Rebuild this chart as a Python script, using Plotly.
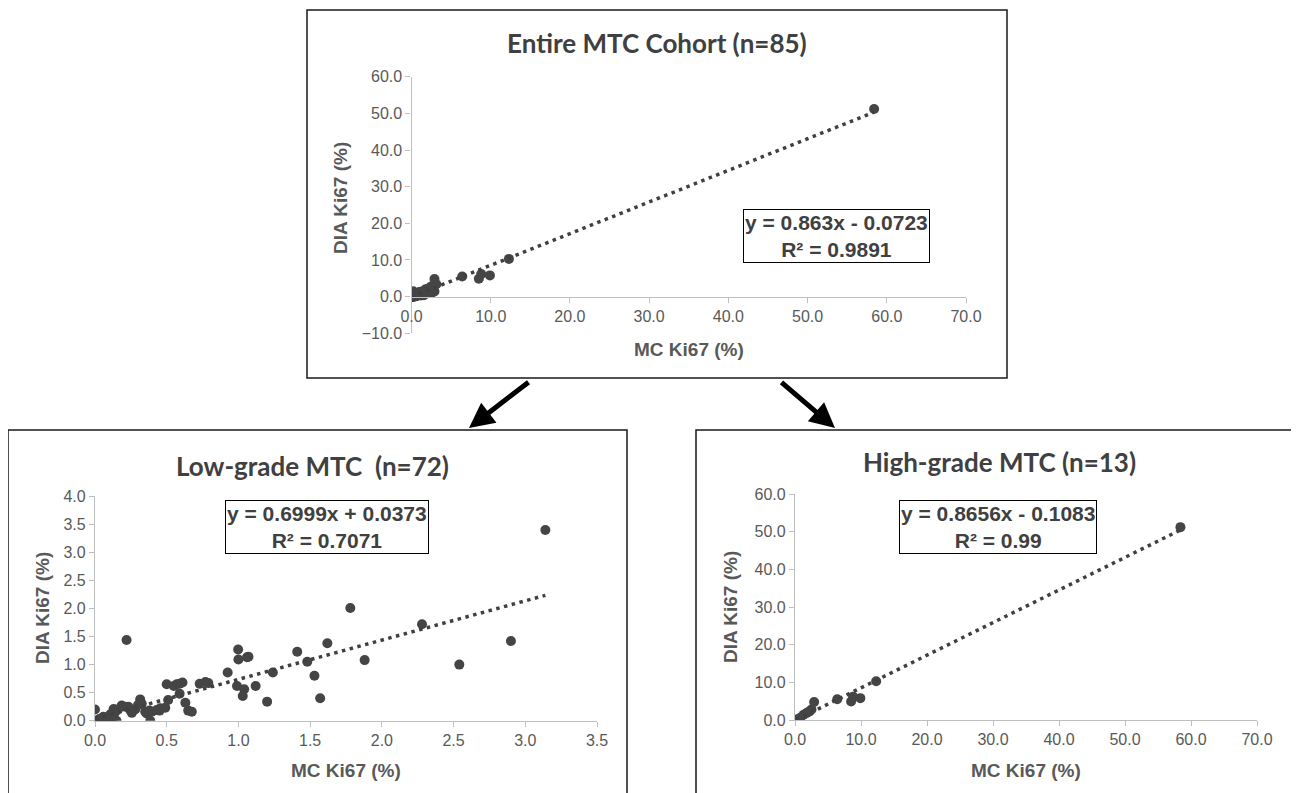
import plotly.graph_objects as go

# ---------------- data ----------------
low_mc = [0.00, 0.00, 0.02, 0.04, 0.06, 0.08, 0.10, 0.12, 0.15, 0.22,
          0.13, 0.14, 0.105, 0.058, 0.186, 0.21, 0.233, 0.245, 0.257,
          0.315, 0.326, 0.35, 0.36, 0.385, 0.396, 0.43, 0.455, 0.49,
          0.50, 0.51, 0.57, 0.59, 0.59, 0.63, 0.65, 0.675,
          0.73, 0.77, 0.79, 0.925, 0.99, 0.998, 1.00, 1.03, 1.04, 1.06, 1.07, 1.12, 1.20, 1.24,
          1.41, 1.48, 1.53, 1.57, 1.62, 1.78, 1.88, 2.28, 2.54, 2.90, 3.14,
          0.03, 0.07, 0.09, 0.11, 0.16, 0.28, 0.30, 0.38, 0.45, 0.55, 0.61]
low_dia = [0.20, 0.00, 0.00, 0.00, 0.00, 0.00, 0.00, 0.00, 0.00, 1.44,
           0.21, 0.15, 0.10, 0.07, 0.27, 0.25, 0.25, 0.19, 0.14,
           0.38, 0.30, 0.16, 0.13, 0.00, 0.16, 0.19, 0.22, 0.23,
           0.65, 0.37, 0.65, 0.66, 0.48, 0.32, 0.18, 0.16,
           0.66, 0.69, 0.67, 0.86, 0.62, 1.27, 1.09, 0.44, 0.56, 1.13, 1.14, 0.62, 0.34, 0.86,
           1.23, 1.05, 0.80, 0.40, 1.38, 2.01, 1.08, 1.72, 1.00, 1.42, 3.40,
           0.03, 0.02, 0.05, 0.12, 0.20, 0.20, 0.28, 0.18, 0.18, 0.62, 0.68]

high_mc = [0.2, 0.8, 1.3, 1.8, 2.2, 2.5, 2.9, 6.4, 8.5, 8.8, 9.9, 12.3, 58.4]
high_dia = [0.1, 0.6, 1.4, 1.9, 2.3, 2.8, 4.8, 5.5, 4.9, 6.2, 5.8, 10.3, 51.2]

all_mc = low_mc + high_mc
all_dia = low_dia + high_dia

panel_titles = ["Entire MTC Cohort (n=85)", "Low-grade MTC&nbsp; (n=72)", "High-grade MTC (n=13)"]
slopes = [0.863, 0.6999, 0.8656]
intercepts = [-0.0723, 0.0373, -0.1083]
r2_values = ["0.9891", "0.7071", "0.99"]
x_ranges = [[0, 70], [0, 3.5], [0, 70]]
y_ranges = [[-10, 60], [0, 4.0], [0, 60]]
x_dticks = [10, 0.5, 10]
y_dticks = [10, 0.5, 10]
x_title = "MC Ki67 (%)"
y_title = "DIA Ki67 (%)"

# ---------------- style / layout ----------------
GRAY = "#595959"
AXIS = "#bfbfbf"
MARK = "#454545"
TICKFONT = dict(family="Liberation Sans, Arial, sans-serif", size=16, color=GRAY)
W, H = 1299, 793
OX, OY = 8, 8   # page offset of the plot div (body margin)

def px(x):
    return (x - OX) / W

def py(y):
    return 1 - (y - OY) / H

datasets = [(all_mc, all_dia), (low_mc, low_dia), (high_mc, high_dia)]
x_domains = [[px(411.5), px(966)], [px(95), px(597)], [px(795), px(1257)]]
y_domains = [[py(333.3), py(76.7)], [py(720.7), py(496.3)], [py(720), py(494)]]
title_pos = [(657, 43), (312, 466), (999, 462)]
xt_pos = [(689, 350), (346, 770), (1026, 770)]
yt_pos = [(340, 198), (42, 608), (730, 607)]
eq_pos = [(836, 236), (327, 527), (998, 527)]

fig = go.Figure()
layout = dict(width=W, height=H, margin=dict(l=0, r=0, t=0, b=0, autoexpand=False),
              paper_bgcolor="white", plot_bgcolor="white", showlegend=False)
annotations = []
shapes = []

def ann(**kw):
    base = dict(xref="paper", yref="paper", showarrow=False, xanchor="center", yanchor="middle")
    base.update(kw)
    annotations.append(base)

for i, (xs, ys) in enumerate(datasets):
    suffix = "" if i == 0 else str(i + 1)
    xa, ya = "x" + suffix, "y" + suffix
    fig.add_trace(go.Scatter(x=xs, y=ys, mode="markers", xaxis=xa, yaxis=ya,
                             marker=dict(size=10, color=MARK), hoverinfo="skip"))
    x0, x1 = min(xs), max(xs)
    fig.add_trace(go.Scatter(x=[x0, x1],
                             y=[slopes[i] * x0 + intercepts[i], slopes[i] * x1 + intercepts[i]],
                             mode="lines", xaxis=xa, yaxis=ya,
                             line=dict(color="#404040", width=3.5, dash="3.5px,4.5px"), hoverinfo="skip"))
    xax = dict(domain=x_domains[i], range=x_ranges[i], dtick=x_dticks[i], tick0=0,
               tickformat=".1f", showgrid=False, zeroline=False, showline=True, automargin=False,
               linecolor=AXIS, linewidth=1.3, ticks="outside", ticklen=5, tickcolor=AXIS,
               tickfont=TICKFONT, anchor=ya, fixedrange=True)
    if i == 0:
        yr = y_ranges[0]
        frac = (0 - yr[0]) / (yr[1] - yr[0])
        d = y_domains[0]
        xax.update(anchor="free", position=d[0] + frac * (d[1] - d[0]))
    yax = dict(domain=y_domains[i], range=y_ranges[i], dtick=y_dticks[i], tick0=0,
               tickformat=".1f", showgrid=False, zeroline=False, showline=True, automargin=False,
               linecolor=AXIS, linewidth=1.3, ticks="outside", ticklen=5, tickcolor=AXIS,
               tickfont=TICKFONT, anchor=xa, fixedrange=True)
    layout["xaxis" + suffix] = xax
    layout["yaxis" + suffix] = yax

    tx, ty = title_pos[i]
    ann(text="<b>" + panel_titles[i] + "</b>", x=px(tx), y=py(ty),
        font=dict(family="Lato, Open Sans, sans-serif", size=26, color="#404040"))
    ax_, ay_ = xt_pos[i]
    ann(text="<b>" + x_title + "</b>", x=px(ax_), y=py(ay_),
        font=dict(family="Liberation Sans, Arial, sans-serif", size=19, color=GRAY))
    bx, by = yt_pos[i]
    ann(text="<b>" + y_title + "</b>", x=px(bx), y=py(by), textangle=-90,
        font=dict(family="Liberation Sans, Arial, sans-serif", size=19, color=GRAY))
    sign = "+" if intercepts[i] >= 0 else "-"
    eq = "y = %sx %s %s<br>R² = %s" % (f"{slopes[i]:g}", sign, f"{abs(intercepts[i]):g}", r2_values[i])
    ex, ey = eq_pos[i]
    ann(text="<b>" + eq + "</b>", x=px(ex), y=py(ey),
        bordercolor="#000000", borderwidth=1, borderpad=1, bgcolor="white",
        font=dict(family="Liberation Sans, Arial, sans-serif", size=21, color="#404040"))

# panel frames
frames = [(307, 10, 1007, 378), (8, 430, 627, 805), (696, 430, 1310, 805)]
for (x0, y0, x1, y1) in frames:
    shapes.append(dict(type="rect", xref="paper", yref="paper",
                       x0=px(x0), y0=py(y1), x1=px(x1), y1=py(y0),
                       line=dict(color="#1a1a1a", width=1.5), layer="below"))

# arrows
annotations.append(dict(x=px(469), y=py(428), xref="paper", yref="paper", ax=61, ay=-47,
                        showarrow=True, arrowhead=2, arrowsize=1.0, arrowwidth=5, arrowcolor="black", text=""))
annotations.append(dict(x=px(835), y=py(428), xref="paper", yref="paper", ax=-55, ay=-47,
                        showarrow=True, arrowhead=2, arrowsize=1.0, arrowwidth=5, arrowcolor="black", text=""))

layout["annotations"] = annotations
layout["shapes"] = shapes
fig.update_layout(**layout)
fig.write_html("out.html")
